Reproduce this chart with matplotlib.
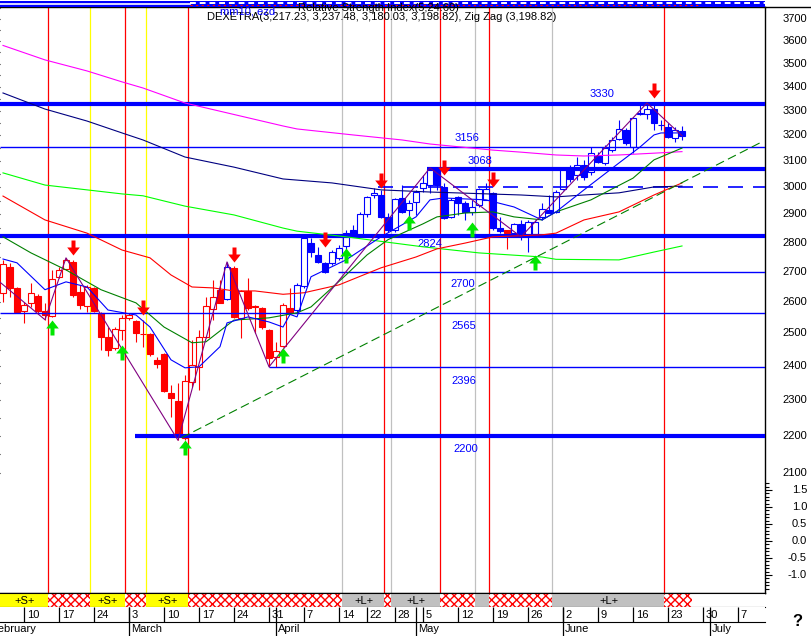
import numpy as np
import matplotlib
matplotlib.use("Agg")
import matplotlib.pyplot as plt
from matplotlib.path import Path
from matplotlib.transforms import blended_transform_factory as blend
from matplotlib.ticker import FixedLocator, NullFormatter, NullLocator

plt.rcParams['font.family'] = ['Liberation Sans', 'DejaVu Sans']
plt.rcParams['hatch.linewidth'] = 1.0

W, H = 812, 636

# ---------------- data (trading-day index k, k=0 -> 5 Feb 2003) ----------------
opens = [2630, 2716, 2646, 2571, 2597, 2620, 2571, 2555, 2683, 2709,
         2733, 2633, 2587, 2646, 2565, 2489, 2456, 2511, 2549, 2540,
         2499, 2499, 2419, 2437, 2321, 2298, 2195, 2354, 2398, 2489,
         2578, 2640, 2610, 2713, 2549, 2636, 2587, 2581, 2511, 2428,
         2462, 2581, 2575, 2652, 2798, 2757, 2730, 2730, 2747, 2788,
         2845, 2827, 2901, 2971, 2971, 2891, 2845, 2960, 2916, 2946,
         2997, 3008, 3065, 3001, 2891, 2964, 2942, 2909, 2935, 2953,
         2979, 2852, 2845, 2834, 2866, 2827, 2831, 2891, 2916, 2909,
         2993, 3073, 3046, 3084, 3058, 3119, 3092, 3143, 3186, 3222,
         3154, 3287, 3287, 3307, 3243, 3234, 3190, 3217.23]
highs = [2740, 2730, 2650, 2600, 2663, 2625, 2597, 2706, 2716, 2747,
         2740, 2656, 2656, 2650, 2568, 2520, 2520, 2558, 2565, 2543,
         2543, 2501, 2428, 2440, 2345, 2350, 2374, 2480, 2510, 2617,
         2673, 2673, 2733, 2720, 2640, 2680, 2590, 2584, 2514, 2474,
         2597, 2646, 2663, 2822, 2815, 2784, 2733, 2774, 2791, 2845,
         2862, 2909, 2968, 2997, 2990, 2905, 2960, 3008, 2953, 2990,
         3046, 3073, 3073, 3016, 2960, 2968, 2949, 2953, 2997, 3016,
         2982, 2891, 2845, 2869, 2880, 2880, 2880, 2942, 2971, 2990,
         3073, 3084, 3115, 3103, 3154, 3134, 3162, 3194, 3263, 3230,
         3275, 3332, 3332, 3332, 3263, 3250, 3234, 3237.48]
lows = [2600, 2617, 2565, 2533, 2584, 2565, 2543, 2552, 2680, 2706,
        2617, 2578, 2568, 2568, 2450, 2431, 2450, 2480, 2543, 2474,
        2459, 2431, 2395, 2324, 2253, 2188, 2190, 2339, 2330, 2486,
        2543, 2600, 2607, 2549, 2486, 2575, 2501, 2514, 2398, 2398,
        2459, 2562, 2568, 2646, 2750, 2730, 2696, 2723, 2740, 2774,
        2820, 2820, 2891, 2960, 2887, 2838, 2838, 2905, 2852, 2898,
        2982, 2979, 2990, 2884, 2887, 2898, 2880, 2898, 2927, 2953,
        2845, 2834, 2778, 2827, 2809, 2767, 2824, 2880, 2905, 2905,
        2990, 3020, 3027, 3027, 3046, 3092, 3084, 3134, 3182, 3162,
        3131, 3283, 3267, 3222, 3222, 3190, 3174, 3180.03]
closes = [2726, 2646, 2568, 2590, 2630, 2571, 2558, 2676, 2706, 2740,
          2623, 2590, 2649, 2571, 2489, 2450, 2514, 2549, 2558, 2501,
          2497, 2437, 2407, 2327, 2306, 2200, 2357, 2403, 2489, 2587,
          2617, 2597, 2716, 2552, 2636, 2581, 2584, 2520, 2425, 2447,
          2590, 2565, 2656, 2815, 2767, 2733, 2699, 2767, 2781, 2834,
          2827, 2901, 2964, 2979, 2891, 2845, 2957, 2909, 2942, 2982,
          3016, 3069, 3008, 2887, 2953, 2942, 2909, 2927, 2993, 2993,
          2852, 2841, 2834, 2866, 2827, 2873, 2873, 2920, 2905, 2982,
          3069, 3031, 3084, 3039, 3131, 3096, 3150, 3182, 3226, 3170,
          3271, 3291, 3307, 3250, 3240, 3194, 3222, 3198.82]
# colour runs of the candles: (first k, last k, colour)
candle_runs = [(0, 31, '#FF0000'), (32, 32, '#0000FF'), (33, 41, '#FF0000'),
               (42, 71, '#0000FF'), (72, 72, '#FF0000'), (73, 97, '#0000FF')]

# moving averages read at selected days
ma_magenta_k = [0, 6, 12, 17, 20, 26, 40, 42, 50, 57, 61, 67, 70, 74, 79, 83, 88, 93, 97]
ma_magenta_p = [3580, 3516, 3468, 3421, 3395, 3332, 3238, 3226, 3202, 3182, 3166, 3150, 3142,
                3134, 3123, 3119, 3123, 3130, 3136]
ma_navy_k = [0, 6, 12, 17, 20, 26, 33, 40, 47, 54, 61, 74, 79, 83, 88, 93, 97]
ma_navy_p = [3374, 3307, 3258, 3210, 3182, 3115, 3076, 3031, 3016, 2990, 2982, 2971, 2964,
             2971, 2979, 3001, 3004]
ma_lgreen_k = [0, 6, 12, 17, 20, 26, 33, 40, 42, 49, 60, 68, 77, 79, 88, 93, 97]
ma_lgreen_p = [3054, 3008, 2990, 2975, 2968, 2930, 2898, 2851, 2840, 2820, 2785, 2764, 2750,
               2742, 2740, 2767, 2788]
ma_red_k = [0, 6, 12, 17, 21, 24, 27, 30, 33, 36, 40, 43, 48, 54, 59, 62, 66, 70, 77, 79, 83, 88, 93, 97]
ma_red_p = [2967, 2880, 2833, 2774, 2747, 2689, 2649, 2646, 2636, 2636, 2625, 2630, 2656,
            2713, 2750, 2778, 2798, 2820, 2827, 2833, 2880, 2909, 2971, 3016]
ma_dgreen_k = [0, 4, 9, 14, 19, 23, 27, 29, 33, 38, 42, 44, 49, 52, 55, 60, 62, 66, 70, 73, 77,
               79, 84, 90, 93, 97]
ma_dgreen_p = [2820, 2764, 2706, 2640, 2597, 2520, 2471, 2474, 2542, 2549, 2565, 2584, 2689,
               2757, 2810, 2866, 2891, 2905, 2909, 2891, 2880, 2909, 2953, 3034, 3104, 3150]
ma_blue_k = [0, 2, 6, 9, 12, 15, 19, 21, 24, 26, 28, 31, 32, 35, 38, 40, 41, 42, 44, 49, 54,
             59, 61, 63, 69, 73, 77, 79, 83, 88, 91, 93, 94, 97]
ma_blue_p = [2743, 2730, 2640, 2666, 2649, 2574, 2558, 2520, 2419, 2395, 2398, 2459, 2533,
             2552, 2536, 2520, 2560, 2552, 2683, 2740, 2820, 2891, 2953, 2960, 2953, 2927,
             2880, 2909, 2990, 3092, 3154, 3202, 3210, 3210]
zigzag_k = [-1, 6, 9, 25, 32, 38, 61, 74, 92, 97]
zigzag_p = [2676, 2543, 2747, 2188, 2733, 2398, 3073, 2820, 3332, 3198.82]
trend_k = [25.5, 108.1]
trend_p = [2195, 3170]

# support / resistance levels
levels = [3330, 3156, 3068, 3000, 2824, 2700, 2565, 2396, 2200]
level_start_k = [None, None, 60.6, 53.6, None, 47.9, None, 38.0, 18.9]
level_style = ['thick', 'thin', 'thick', 'dash', 'thick', 'thin', 'thin', 'thin', 'thick']
level_label = ['3330', '3156', '3068', '', '2824', '2700', '2565', '2396', '2200']
level_label_k = [85.6, 66.3, 68.1, None, 61.0, 65.7, 65.9, 65.9, 66.1]
level_label_dy = [10, 9, 8, 0, -8, -12, -13, -14, -13]

# signal arrows (tip positions)
sell_k = [10, 20, 33, 46, 54, 63, 70, 93]
sell_p = [2757, 2558, 2733, 2785, 2997, 3046, 3001, 3354]
buy_k = [7, 17, 26, 40, 49, 58, 67, 76]
buy_p = [2543, 2465, 2188, 2455, 2781, 2898, 2873, 2757]

# signal band
band_edges = [-0.43, 6.5, 12.5, 17.5, 20.5, 26.5, 48.5, 54.5, 55.5, 62.5, 67.5, 69.5, 78.5, 94.5, 98.5]
band_kind = ['S', 'X', 'S', 'X', 'S', 'X', 'L', 'X', 'L', 'X', 'L', 'X', 'L', 'X']
band_text = ['+S+', '', '+S+', '', '+S+', '', '+L+', '', '+L+', '', '', '', '+L+', '']

# axis labels
price_ticks = list(range(2100, 3701, 100))
price_minor = list(range(2150, 3751, 100))
ind_ticks = [1.5, 1.0, 0.5, 0.0, -0.5, -1.0]
week_k = [3, 8, 13, 18, 23, 28, 33, 38, 43, 48, 52, 56, 60, 65, 70, 75, 80, 85, 90, 95, 100, 105]
week_lbl = ["10", "17", "24", "3", "10", "17", "24", "31", "7", "14", "22", "28", "5", "12",
            "19", "26", "2", "9", "16", "23", "30", "7"]
month_k = [-2, 18, 39, 59, 80, 101]
month_lbl = ["February", "March", "April", "May", "June", "July"]

# ---------------- figure ----------------
fig = plt.figure(figsize=(W / 100, H / 100), dpi=100)


def px_axes(x0, y0, x1, y1):
    return fig.add_axes([x0 / W, 1 - y1 / H, (x1 - x0) / W, (y1 - y0) / H])


XMIN, XMAX = -3 / 7, 762 / 7
PMIN, PMAX = 1808.7, 3755.8
FS = 8

ax = px_axes(0, 7, 765, 593)
ax.set_yscale('log')
ax.set_xlim(XMIN, XMAX)
ax.set_ylim(PMIN, PMAX)
ax.set_xticks([])
ax.xaxis.set_minor_locator(NullLocator())
ax.spines['left'].set_visible(False)
for s in ['top', 'right', 'bottom']:
    ax.spines[s].set_linewidth(1.0)
ax.yaxis.set_ticks_position('right')
ax.yaxis.set_major_locator(FixedLocator(price_ticks))
ax.yaxis.set_minor_locator(FixedLocator(price_minor))
ax.yaxis.set_major_formatter(NullFormatter())
ax.yaxis.set_minor_formatter(NullFormatter())
ax.tick_params(axis='y', which='major', length=5, width=0.8, direction='out')
ax.tick_params(axis='y', which='minor', length=2.8, width=0.8, direction='out')
tr_lab = blend(fig.transFigure, ax.transData)
for p in price_ticks:
    ax.text(807 / W, p, str(p), transform=tr_lab, ha='right', va='center', fontsize=FS,
            clip_on=False)

ax2 = ax.twinx()
ax2.set_ylim(-1.529, 15.706)
for s in ax2.spines.values():
    s.set_visible(False)
ax2.yaxis.set_major_locator(FixedLocator(ind_ticks))
ax2.yaxis.set_minor_locator(FixedLocator([v / 10 for v in range(-14, 18)]))
ax2.yaxis.set_major_formatter(NullFormatter())
ax2.tick_params(axis='y', which='major', length=5, width=0.8, direction='out')
ax2.tick_params(axis='y', which='minor', length=2.8, width=0.8, direction='out')
tr_lab2 = blend(fig.transFigure, ax2.transData)
for v in ind_ticks:
    ax2.text(807 / W, v, f"{v:.1f}", transform=tr_lab2, ha='right', va='center', fontsize=FS,
             clip_on=False)

# event lines at band boundaries
kind_col = {'S': '#FFFF00', 'X': '#FF0000', 'L': '#C0C0C0'}
for i in range(1, len(band_kind)):
    ax.axvline(band_edges[i], color=kind_col[band_kind[i]], lw=0.9, zorder=1)

# candles
cols = [None] * len(opens)
for a, b, c in candle_runs:
    for k in range(a, b + 1):
        cols[k] = c
ks = np.arange(len(opens))
ax.vlines(ks, lows, highs, colors=cols, lw=0.8, zorder=3)
for k in ks:
    o, c = opens[k], closes[k]
    lo, hi = min(o, c), max(o, c)
    if hi - lo < 1.5:
        ax.hlines((o + c) / 2, k - 0.36, k + 0.36, colors=cols[k], lw=0.9, zorder=4)
        continue
    ax.bar(k, hi - lo, bottom=lo, width=0.72, facecolor=('white' if c > o else cols[k]),
           edgecolor=cols[k], linewidth=0.8, zorder=4)

# levels
for lv, st, sk, lbl, lk, dy in zip(levels, level_style, level_start_k, level_label,
                                   level_label_k, level_label_dy):
    x0 = XMIN if sk is None else sk
    if st == 'thick':
        ax.hlines(lv, x0, XMAX, colors='#0000FF', lw=3.0, zorder=5)
    elif st == 'thin':
        ax.hlines(lv, x0, XMAX, colors='#0000FF', lw=1.0, zorder=5)
    else:
        ax.plot([x0, XMAX], [lv, lv], color='#0000FF', lw=1.2, dashes=(9, 6), zorder=5)
    if lbl:
        ax.annotate(lbl, (lk, lv), xytext=(0, dy * 0.72), textcoords='offset points',
                    ha='center', va='center', color='#0000FF', fontsize=FS, zorder=6)

# moving averages and zigzag
ax.plot(ma_magenta_k, ma_magenta_p, color='#FF00FF', lw=0.8, zorder=6)
ax.plot(ma_navy_k, ma_navy_p, color='#000080', lw=0.8, zorder=6)
ax.plot(ma_lgreen_k, ma_lgreen_p, color='#00FF00', lw=0.8, zorder=6)
ax.plot(ma_red_k, ma_red_p, color='#FF0000', lw=0.8, zorder=6)
ax.plot(ma_dgreen_k, ma_dgreen_p, color='#008000', lw=0.8, zorder=6)
ax.plot(ma_blue_k, ma_blue_p, color='#0000FF', lw=0.8, zorder=6)
ax.plot(zigzag_k, zigzag_p, color='#800080', lw=0.8, zorder=6)
ax.plot(trend_k, trend_p, color='#008000', lw=0.8, dashes=(8, 4), zorder=6)

# arrows
down_path = Path([(-2, 15), (2, 15), (2, 8), (6.3, 8), (0, 0), (-6.3, 8), (-2, 8), (-2, 15)],
                 closed=True)
up_path = Path([(x, -y) for x, y in down_path.vertices], closed=True)
ax.plot(sell_k, sell_p, ls='none', marker=down_path, markersize=21.6, color='#FF0000',
        markeredgewidth=0, zorder=8)
ax.plot(buy_k, buy_p, ls='none', marker=up_path, markersize=21.6, color='#00E600',
        markeredgewidth=0, zorder=8)

# header strip
axt = px_axes(0, 0, 765, 7)
axt.set_xlim(0, 765)
axt.set_ylim(7, 0)
axt.axis('off')
axt.add_patch(plt.Rectangle((0, 1), 765, 6, color='#0000FF', lw=0))
axt.plot([0, 190], [3.5, 3.5], color='white', lw=1.2)
axt.plot([190, 765], [3.0, 3.0], color='white', lw=1.4, dashes=(3, 2))
axt.plot([190, 700], [4.5, 4.5], color='#FF0000', lw=0.8, dashes=(2, 3))
fig.add_artist(plt.Line2D([765 / W, 1], [1 - 7 / H, 1 - 7 / H], color='black', lw=1.0))

fig.text(207 / W, 1 - 17 / H, "DEXETRA(3,217.23, 3,237.48, 3,180.03, 3,198.82), Zig Zag (3,198.82)",
         fontsize=FS, va='center', ha='left')
fig.text(220 / W, 1 - 12 / H, "mm10, ezd", fontsize=FS, va='center', ha='left', color='#0000FF')
fig.text(298 / W, 1 - 8 / H, "Relative Strength Index(5,24.60)", fontsize=FS, va='center',
         ha='left')

# signal band
axb = px_axes(0, 593, 765, 607)
axb.set_xlim(XMIN, XMAX)
axb.set_ylim(0, 1)
axb.set_xticks([])
axb.set_yticks([])
for s in ['left', 'right']:
    axb.spines[s].set_visible(False)
for i, kd in enumerate(band_kind):
    x0, x1 = band_edges[i], band_edges[i + 1]
    if kd == 'X':
        axb.add_patch(plt.Rectangle((x0, 0), x1 - x0, 1, facecolor='white', edgecolor='#FF0000',
                                    hatch='xxxx', lw=0))
    else:
        axb.add_patch(plt.Rectangle((x0, 0), x1 - x0, 1, facecolor=kind_col[kd], lw=0))
    if band_text[i]:
        axb.text((x0 + x1) / 2, 0.45, band_text[i], ha='center', va='center', fontsize=FS)

# date row
axd = px_axes(0, 607, 765, 622)
axd.set_xlim(XMIN, XMAX)
axd.set_ylim(0, 1)
axd.set_xticks([])
axd.set_yticks([])
for s in ['left', 'right', 'top']:
    axd.spines[s].set_visible(False)
axd.vlines(week_k, 0, 1, colors='black', lw=0.9)
for k, t in zip(week_k, week_lbl):
    axd.text(k + 0.4, 0.45, t, ha='left', va='center', fontsize=FS)

# month row
axm = px_axes(0, 622, 765, 636)
axm.set_xlim(XMIN, XMAX)
axm.set_ylim(0, 1)
axm.axis('off')
for k, t in zip(month_k, month_lbl):
    axd.vlines(k, 0, 1, colors='black', lw=0.9)
    axm.vlines(k, 0, 1, colors='black', lw=0.9)
    axm.text(k + 0.3, 0.5, t, ha='left', va='center', fontsize=FS, clip_on=False)

fig.text(797 / W, 1 - 622 / H, "?", fontsize=12, fontweight='bold', ha='center', va='center')

fig.savefig("out.png", dpi=100)
